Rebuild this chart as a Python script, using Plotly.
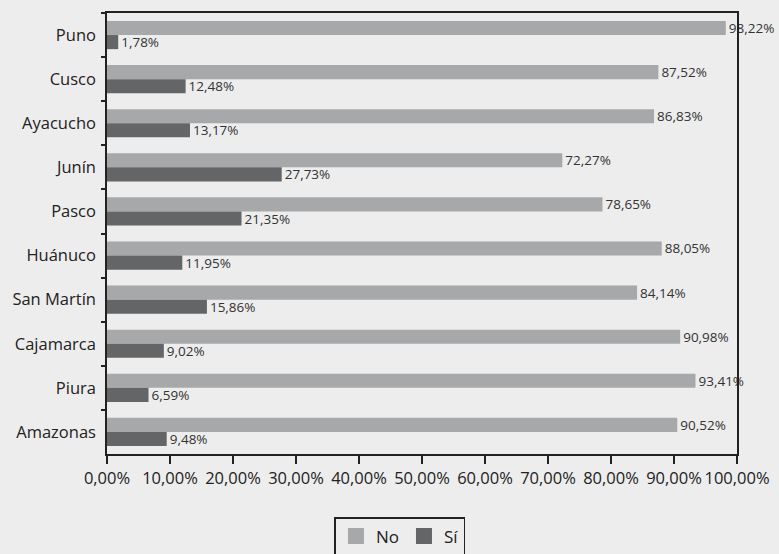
import plotly.graph_objects as go

regions = ["Puno", "Cusco", "Ayacucho", "Junín", "Pasco", "Huánuco", "San Martín", "Cajamarca", "Piura", "Amazonas"]
no_vals = [98.22, 87.52, 86.83, 72.27, 78.65, 88.05, 84.14, 90.98, 93.41, 90.52]
si_vals = [1.78, 12.48, 13.17, 27.73, 21.35, 11.95, 15.86, 9.02, 6.59, 9.48]
x_ticks = [0, 10, 20, 30, 40, 50, 60, 70, 80, 90, 100]
x_tick_text = ["0,00%", "10,00%", "20,00%", "30,00%", "40,00%", "50,00%",
               "60,00%", "70,00%", "80,00%", "90,00%", "100,00%"]

FONT = "Open Sans"
C_NO = "#a7a8aa"
C_SI = "#646567"

fig = go.Figure()
fig.add_trace(go.Bar(
    name="No", y=regions, x=no_vals, orientation="h",
    marker=dict(color=C_NO, line=dict(width=0)),
    text=no_vals, texttemplate="%{x:.2f}%", textposition="outside",
    constraintext="none", showlegend=False,
    textfont=dict(family=FONT, size=13.5, color="#333333"), cliponaxis=False,
))
fig.add_trace(go.Bar(
    name="Sí", y=regions, x=si_vals, orientation="h",
    marker=dict(color=C_SI, line=dict(width=0)),
    text=si_vals, texttemplate="%{x:.2f}%", textposition="outside",
    constraintext="none", showlegend=False,
    textfont=dict(family=FONT, size=13.5, color="#333333"), cliponaxis=False,
))
# legend entries with larger square swatches
for nm, col in (("No", C_NO), ("Sí", C_SI)):
    fig.add_trace(go.Scatter(
        name=nm, x=[None], y=[None], mode="markers",
        marker=dict(symbol="square", size=20, color=col), showlegend=True,
    ))

fig.update_layout(
    width=779, height=554,
    margin=dict(l=107, r=42, t=13, b=100, autoexpand=False),
    paper_bgcolor="#ededed", plot_bgcolor="#ededed",
    barmode="group", bargap=0.36, bargroupgap=0,
    separators=",.",
    font=dict(family=FONT, size=16, color="#222222"),
    showlegend=True,
    legend=dict(
        orientation="h", x=0.465, xanchor="center", y=-0.143, yanchor="top",
        bordercolor="#222222", borderwidth=1.5, bgcolor="#ededed",
        font=dict(family=FONT, size=17), traceorder="normal",
        itemwidth=30, tracegroupgap=0,
    ),
    xaxis=dict(
        range=[0, 100], tickvals=x_ticks, ticktext=x_tick_text,
        showgrid=False, zeroline=False,
        showline=True, linecolor="#222222", linewidth=1.5, mirror=True,
        ticks="outside", ticklen=8, tickcolor="#222222", tickwidth=1.5,
        tickfont=dict(family=FONT, size=16.5),
    ),
    yaxis=dict(
        autorange="reversed", showgrid=False, zeroline=False,
        showline=True, linecolor="#222222", linewidth=1.5, mirror=True,
        ticks="outside", ticklen=4, tickcolor="#222222", tickwidth=1.5,
        tickson="boundaries", ticklabelstandoff=6,
        tickfont=dict(family=FONT, size=16.5),
    ),
)

fig.write_html("out.html")
